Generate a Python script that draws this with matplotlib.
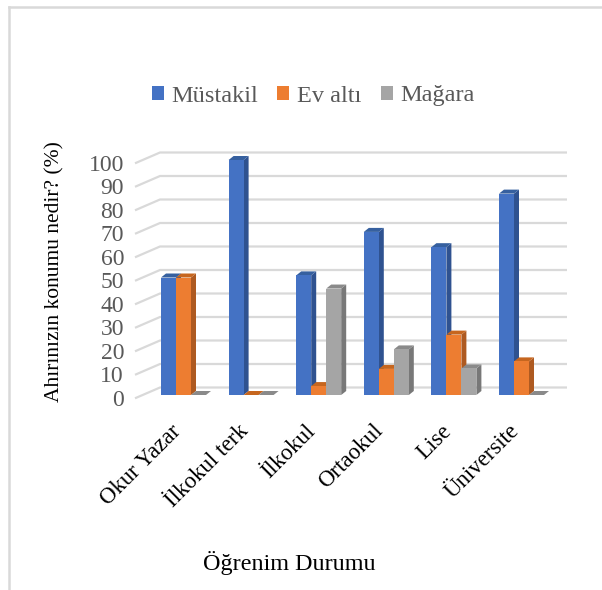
import matplotlib.pyplot as plt
from matplotlib.patches import Polygon, Patch
from matplotlib.lines import Line2D

plt.rcParams['font.family'] = ['Liberation Serif', 'DejaVu Serif']

categories = ['Okur Yazar', 'İlkokul terk', 'İlkokul', 'Ortaokul', 'Lise', 'Üniversite']
mustakil = [50, 100, 50.9, 69.4, 62.9, 85.7]
ev_alti = [50, 0, 3.8, 11.1, 25.7, 14.3]
magara = [0, 0, 45.3, 19.4, 11.3, 0]
series_names = ['Müstakil', 'Ev altı', 'Mağara']
yticks = [0, 10, 20, 30, 40, 50, 60, 70, 80, 90, 100]

face_colors = ['#4472C4', '#ED7D31', '#A5A5A5']
side_colors = ['#2F5290', '#AE5A21', '#787878']
top_colors = ['#36609F', '#C6661F', '#8A8A8A']

W, H = 602, 590
fig = plt.figure(figsize=(W / 100, H / 100), dpi=100)

# axes box in pixels: x 135..567, y 140..405 (top-down)
ax = fig.add_axes([135 / W, 1 - 405 / H, (567 - 135) / W, (405 - 140) / H])
px_x = 67.6          # pixels per category
px_y = 2.35          # pixels per percent
ax.set_xlim((135 - 183.5) / px_x, (567 - 183.5) / px_x)
ax.set_ylim((395 - 405) / px_y, (395 - 140) / px_y)
ax.axis('off')

# back-wall gridlines with the slanted floor part on the left
back_dy = 7.5 / px_y
x_front = (135 - 183.5) / px_x
x_back = (160 - 183.5) / px_x
for v in yticks:
    ax.plot([x_front, x_back, ax.get_xlim()[1]],
            [v - 3.3 / px_y, v + back_dy, v + back_dy],
            color='#D9D9D9', lw=1.6, clip_on=False, zorder=0, solid_capstyle='butt')
    ax.text(x_front - 11 / px_x, v - 2.2, str(v), ha='right', va='center',
            fontsize=17, color='#595959')

# 3D-looking columns
bw = 15 / px_x
dx = 5 / px_x
dy = 4 / px_y
series = [mustakil, ev_alti, magara]
z = 1
for i in range(len(categories)):
    for s, vals in enumerate(series):
        h = vals[i]
        x0 = i + (s - 1.5) * bw
        ax.add_patch(Polygon([(x0 + bw, 0), (x0 + bw + dx, dy), (x0 + bw + dx, h + dy), (x0 + bw, h)],
                             closed=True, facecolor=side_colors[s], edgecolor='none', zorder=z))
        ax.add_patch(Polygon([(x0, h), (x0 + bw, h), (x0 + bw + dx, h + dy), (x0 + dx, h + dy)],
                             closed=True, facecolor=top_colors[s], edgecolor='none', zorder=z))
        ax.bar(x0, h, width=bw, align='edge', color=face_colors[s], zorder=z + 1)
        z += 2

# category labels rotated like the spreadsheet axis
for i, name in enumerate(categories):
    ax.text(i - 6 / px_x, -14.0, name, rotation=45, rotation_mode='anchor',
            ha='right', va='center', fontsize=16.5, color='black')

fig.text(55 / W, 1 - 272 / H, 'Ahırınızın konumu nedir? (%)', rotation=90,
         ha='center', va='center', fontsize=15.5, color='black')
fig.text(289 / W, 1 - 563 / H, 'Öğrenim Durumu', ha='center', va='center',
         fontsize=17.4, color='black')

handles = [Patch(facecolor=c, edgecolor='none') for c in face_colors]
leg = fig.legend(handles, series_names, loc='center', bbox_to_anchor=(313 / W, 1 - 96 / H),
                 ncol=3, frameon=False, fontsize=17.5, handlelength=0.5, handleheight=0.5,
                 handletextpad=0.3, columnspacing=0.8, labelcolor='#595959')

# outer chart border (top and left edges visible)
fig.add_artist(Line2D([9 / W, 9 / W], [0, 1 - 6.5 / H], transform=fig.transFigure,
                      color='#D9D9D9', lw=1.8))
fig.add_artist(Line2D([9 / W, 1], [1 - 6.5 / H, 1 - 6.5 / H], transform=fig.transFigure,
                      color='#D9D9D9', lw=1.8))

fig.savefig('out.png', dpi=100)
